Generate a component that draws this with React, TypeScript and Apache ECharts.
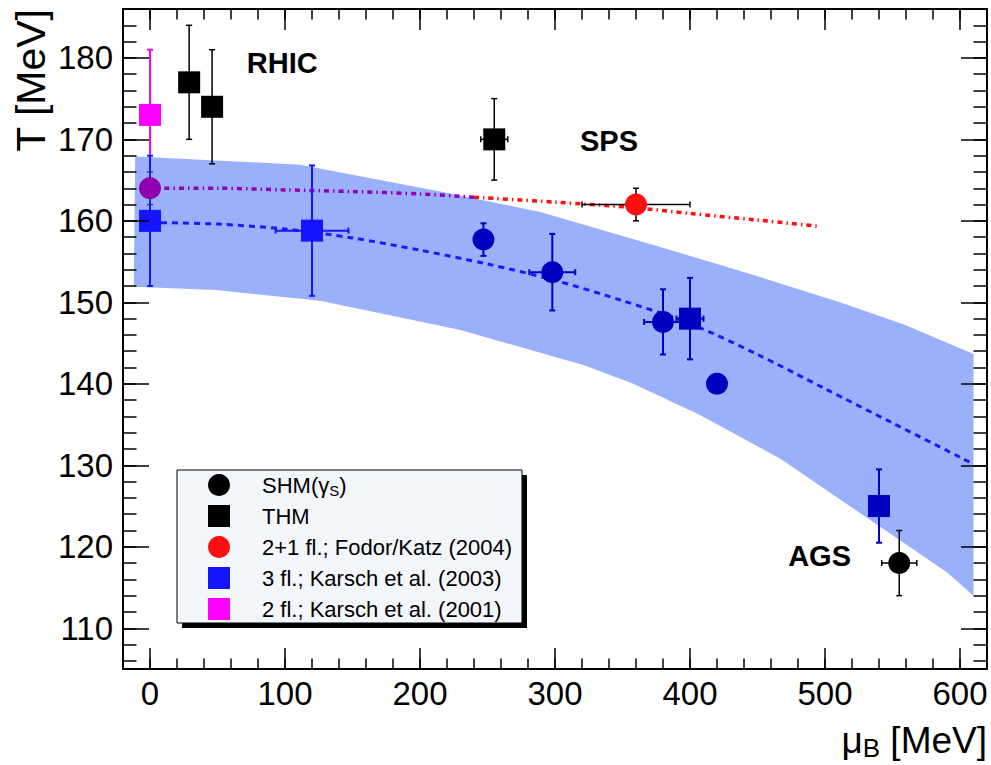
import React, { useEffect, useRef } from "react";
import * as echarts from "echarts";

const FONT = "Liberation Sans";

// ---------- data (μB in MeV, T in MeV) ----------
// SHM(γS) black circle (AGS)
const shmBlackMu = [555];
const shmBlackT = [118];
const shmBlackMuErr = [13];
const shmBlackTErr = [4];

// SHM dark-blue circles
const shmBlueMu = [247, 298, 380, 420];
const shmBlueT = [157.7, 153.7, 147.6, 140.0];
const shmBlueMuErr = [0, 17, 14, 0];
const shmBlueTErr = [2, 4.7, 4, 0];

// THM black squares
const thmMu = [29, 46, 255];
const thmT = [177, 174, 170];
const thmMuErr = [0, 0, 10];
const thmTErr = [7, 7, 5];

// THM dark-blue squares
const thmBlueMu = [400, 540];
const thmBlueT = [148, 125];
const thmBlueMuErr = [10, 0];
const thmBlueTErr = [5, 4.5];

// 2+1 fl.; Fodor/Katz (2004)
const fkMu = [360];
const fkT = [162];
const fkMuErr = [40];
const fkTErr = [2];

// Fodor/Katz at μB = 0 (purple)
const fk0Mu = [0];
const fk0T = [164];
const fk0MuErr = [0];
const fk0TErr = [2];

// 3 fl.; Karsch et al. (2003)
const k3Mu = [0, 120];
const k3T = [160, 158.8];
const k3MuErr = [0, 27];
const k3TErr = [8, 8];

// 2 fl.; Karsch et al. (2001)
const k2Mu = [0];
const k2T = [173];
const k2MuErr = [0];
const k2TErr = [8];

// Fodor/Katz dash-dot curve (purple part, red part)
const fkPurpleMu = [0, 50, 100, 150, 200, 240];
const fkPurpleT = [164.0, 164.0, 163.8, 163.6, 163.3, 162.9];
const fkRedMu = [240, 300, 360, 400, 450, 497];
const fkRedT = [162.9, 162.3, 161.6, 160.9, 160.1, 159.3];

// Karsch dashed curve
const kCurveMu = [0, 50, 100, 150, 200, 250, 300, 350, 400, 450, 500, 550, 607];
const kCurveT = [159.8, 159.6, 159.0, 157.9, 156.4, 154.7, 152.7, 150.2, 147.4, 143.6, 139.4, 135.2, 130.4];

// uncertainty band
const bandUpperMu = [-11, 111, 215, 289, 378, 452, 511, 558, 610];
const bandUpperT = [167.9, 166.9, 163.6, 161.1, 156.8, 153.1, 150.0, 147.3, 143.65];
const bandLowerMu = [-12, 49, 126, 230, 321, 358, 407, 467, 590, 610];
const bandLowerT = [151.9, 151.5, 150.2, 146.6, 142.3, 140.0, 136.2, 130.8, 116.9, 114.0];

// annotations
const annotationText = ["RHIC", "SPS", "AGS"];
const annotationMu = [98, 340, 496];
const annotationT = [179.35, 169.8, 118.85];

// legend
const legendLabels = [
  "{a|SHM(γ}{s|S}{a|)}",
  "{a|THM}",
  "{a|2+1 fl.; Fodor/Katz (2004)}",
  "{a|3 fl.; Karsch et al. (2003)}",
  "{a|2 fl.; Karsch et al. (2001)}",
];
const legendSymbols = ["circle", "rect", "circle", "rect", "rect"];
const legendColors = ["#000000", "#000000", "#ff1010", "#1414ff", "#ff00ff"];

// ---------- colours ----------
const DARK_BLUE = "#0000c0";
const BRIGHT_BLUE = "#1414ff";
const BAND = "#9bb0fb";

function errSeries(
  mu: number[],
  t: number[],
  muErr: number[],
  tErr: number[],
  color: string,
  width: number
) {
  const data = mu.map((m, i) => [m, t[i], muErr[i], tErr[i]]);
  return {
    type: "custom",
    coordinateSystem: "cartesian2d",
    xAxisIndex: 0,
    yAxisIndex: 0,
    silent: true,
    z: 3,
    encode: { x: 0, y: 1 },
    data,
    renderItem: (_params: any, api: any) => {
      const x = api.value(0);
      const y = api.value(1);
      const xe = api.value(2);
      const ye = api.value(3);
      const c = api.coord([x, y]);
      const cap = 3;
      const st = { stroke: color, lineWidth: width };
      const children: any[] = [];
      if (ye > 0) {
        const top = api.coord([x, y + ye]);
        const bot = api.coord([x, y - ye]);
        children.push({ type: "line", shape: { x1: c[0], y1: top[1], x2: c[0], y2: bot[1] }, style: st });
        children.push({ type: "line", shape: { x1: c[0] - cap, y1: top[1], x2: c[0] + cap, y2: top[1] }, style: st });
        children.push({ type: "line", shape: { x1: c[0] - cap, y1: bot[1], x2: c[0] + cap, y2: bot[1] }, style: st });
      }
      if (xe > 0) {
        const l = api.coord([x - xe, y]);
        const r = api.coord([x + xe, y]);
        children.push({ type: "line", shape: { x1: l[0], y1: c[1], x2: r[0], y2: c[1] }, style: st });
        children.push({ type: "line", shape: { x1: l[0], y1: c[1] - cap, x2: l[0], y2: c[1] + cap }, style: st });
        children.push({ type: "line", shape: { x1: r[0], y1: c[1] - cap, x2: r[0], y2: c[1] + cap }, style: st });
      }
      return { type: "group", children };
    },
  };
}

function markerSeries(mu: number[], t: number[], symbol: string, color: string) {
  return {
    type: "scatter",
    xAxisIndex: 0,
    yAxisIndex: 0,
    silent: true,
    z: 4,
    symbol,
    symbolSize: 22,
    itemStyle: { color, opacity: 1 },
    data: mu.map((m, i) => [m, t[i]]),
  };
}

function lineSeries(mu: number[], t: number[], color: string, width: number, dash: number[]) {
  return {
    type: "line",
    xAxisIndex: 0,
    yAxisIndex: 0,
    silent: true,
    z: 2,
    symbol: "none",
    showSymbol: false,
    smooth: 0.3,
    lineStyle: { color, width, type: dash, cap: "butt" },
    data: mu.map((m, i) => [m, t[i]]),
  };
}

const tickStyle = { color: "#000", width: 1.5 };
const frameLine = { show: true, onZero: false, lineStyle: { color: "#000", width: 2 } };

function xAxes() {
  const base = { type: "value", min: -20, max: 620, splitLine: { show: false }, z: 10 };
  return [
    {
      ...base,
      position: "bottom",
      splitNumber: 6,
      axisLine: frameLine,
      axisTick: { inside: true, length: 21, lineStyle: tickStyle },
      axisLabel: {
        fontSize: 33,
        fontFamily: FONT,
        color: "#000",
        margin: 8,
        showMinLabel: false,
        showMaxLabel: false,
      },
    },
    {
      ...base,
      position: "bottom",
      interval: 20,
      axisLine: { show: false, onZero: false },
      axisTick: { inside: true, length: 10.5, lineStyle: tickStyle },
      axisLabel: { show: false },
    },
    {
      ...base,
      position: "top",
      splitNumber: 6,
      axisLine: frameLine,
      axisTick: { inside: true, length: 21, lineStyle: tickStyle },
      axisLabel: { show: false },
    },
    {
      ...base,
      position: "top",
      interval: 20,
      axisLine: { show: false, onZero: false },
      axisTick: { inside: true, length: 10.5, lineStyle: tickStyle },
      axisLabel: { show: false },
    },
  ];
}

function yAxes() {
  const base = { type: "value", min: 105, max: 186, splitLine: { show: false }, z: 10 };
  return [
    {
      ...base,
      position: "left",
      splitNumber: 8,
      axisLine: frameLine,
      axisTick: { inside: true, length: 26, lineStyle: tickStyle },
      axisLabel: {
        fontSize: 33,
        fontFamily: FONT,
        color: "#000",
        margin: 10,
        showMinLabel: false,
        showMaxLabel: false,
      },
    },
    {
      ...base,
      position: "left",
      splitNumber: 40,
      axisLine: { show: false, onZero: false },
      axisTick: { inside: true, length: 13.5, lineStyle: tickStyle },
      axisLabel: { show: false },
    },
    {
      ...base,
      position: "right",
      splitNumber: 8,
      axisLine: frameLine,
      axisTick: { inside: true, length: 26, lineStyle: tickStyle },
      axisLabel: { show: false },
    },
    {
      ...base,
      position: "right",
      splitNumber: 40,
      axisLine: { show: false, onZero: false },
      axisTick: { inside: true, length: 13.5, lineStyle: tickStyle },
      axisLabel: { show: false },
    },
  ];
}

function legendGraphics() {
  const boxX = 177;
  const boxY = 470;
  const boxW = 345;
  const boxH = 153;
  const rowY = [485, 516, 547, 578, 609];
  const items: any[] = [
    { type: "rect", shape: { x: boxX + 5, y: boxY + 5, width: boxW, height: boxH }, style: { fill: "#000" }, z: 100 },
    {
      type: "rect",
      shape: { x: boxX, y: boxY, width: boxW, height: boxH },
      style: { fill: "#f3f6fa", stroke: "#000", lineWidth: 1 },
      z: 101,
    },
  ];
  legendLabels.forEach((lab, i) => {
    const cy = rowY[i];
    if (legendSymbols[i] === "circle") {
      items.push({ type: "circle", shape: { cx: 219, cy, r: 11 }, style: { fill: legendColors[i] }, z: 102 });
    } else {
      items.push({
        type: "rect",
        shape: { x: 208, y: cy - 11, width: 22, height: 22 },
        style: { fill: legendColors[i] },
        z: 102,
      });
    }
    items.push({
      type: "text",
      x: 262,
      y: cy,
      z: 102,
      style: {
        text: lab,
        fill: "#000",
        verticalAlign: "middle",
        align: "left",
        rich: {
          a: { fontSize: 22, fontFamily: FONT, fill: "#000", lineHeight: 26, verticalAlign: "middle" },
          s: { fontSize: 15, fontFamily: FONT, fill: "#000", lineHeight: 15, padding: [13, 0, 0, 0], verticalAlign: "bottom" },
        },
      },
    });
  });
  return items;
}

export default function App() {
  const ref = useRef<HTMLDivElement>(null);

  useEffect(() => {
    if (!ref.current) return;
    const chart = echarts.init(ref.current, undefined, { renderer: "svg" });

    const bandSeries = {
      type: "custom",
      coordinateSystem: "cartesian2d",
      xAxisIndex: 0,
      yAxisIndex: 0,
      silent: true,
      z: 1,
      encode: { x: 0, y: 1 },
      data: [[bandUpperMu[0], bandUpperT[0]]],
      renderItem: (_p: any, api: any) => {
        const pts: number[][] = [];
        for (let i = 0; i < bandUpperMu.length; i++) pts.push(api.coord([bandUpperMu[i], bandUpperT[i]]));
        for (let i = bandLowerMu.length - 1; i >= 0; i--) pts.push(api.coord([bandLowerMu[i], bandLowerT[i]]));
        return { type: "polygon", shape: { points: pts }, style: { fill: BAND } };
      },
    };

    const annotationSeries = {
      type: "scatter",
      xAxisIndex: 0,
      yAxisIndex: 0,
      silent: true,
      z: 5,
      symbolSize: 1,
      itemStyle: { color: "rgba(0,0,0,0)", opacity: 1 },
      label: {
        show: true,
        position: "inside",
        formatter: "{b}",
        fontSize: 29,
        fontWeight: "bold",
        fontFamily: FONT,
        color: "#000",
        opacity: 1,
        textBorderWidth: 0,
        textBorderColor: "transparent",
      },
      data: annotationText.map((s, i) => ({ name: s, value: [annotationMu[i], annotationT[i]] })),
    };

    const option: any = {
      animation: false,
      backgroundColor: "#ffffff",
      grid: { left: 123, right: 4, top: 9, bottom: 96, containLabel: false },
      xAxis: xAxes(),
      yAxis: yAxes(),
      series: [
        bandSeries,
        lineSeries(kCurveMu, kCurveT, "#1a1aff", 3, [6, 5]),
        lineSeries(fkPurpleMu, fkPurpleT, "#9000b4", 3.5, [5, 4, 1.5, 4]),
        lineSeries(fkRedMu, fkRedT, "#ff1010", 3.5, [5, 4, 1.5, 4]),
        errSeries(k2Mu, k2T, k2MuErr, k2TErr, "#ff00ff", 2),
        errSeries(k3Mu, k3T, k3MuErr, k3TErr, BRIGHT_BLUE, 2),
        errSeries(fk0Mu, fk0T, fk0MuErr, fk0TErr, "#2a2ab0", 1.5),
        errSeries(shmBlueMu, shmBlueT, shmBlueMuErr, shmBlueTErr, DARK_BLUE, 2),
        errSeries(thmBlueMu, thmBlueT, thmBlueMuErr, thmBlueTErr, DARK_BLUE, 2),
        errSeries(thmMu, thmT, thmMuErr, thmTErr, "#000", 1.5),
        errSeries(shmBlackMu, shmBlackT, shmBlackMuErr, shmBlackTErr, "#000", 1.5),
        errSeries(fkMu, fkT, fkMuErr, fkTErr, "#000", 1.5),
        markerSeries(k2Mu, k2T, "rect", "#ff00ff"),
        markerSeries(k3Mu, k3T, "rect", BRIGHT_BLUE),
        markerSeries(fk0Mu, fk0T, "circle", "#9000b0"),
        markerSeries(shmBlueMu, shmBlueT, "circle", DARK_BLUE),
        markerSeries(thmBlueMu, thmBlueT, "rect", DARK_BLUE),
        markerSeries(thmMu, thmT, "rect", "#000"),
        markerSeries(shmBlackMu, shmBlackT, "circle", "#000"),
        markerSeries(fkMu, fkT, "circle", "#ff1010"),
        annotationSeries,
      ],
      graphic: [
        {
          type: "text",
          x: 31,
          y: 9,
          rotation: Math.PI / 2,
          style: {
            text: "T [MeV]",
            fontSize: 41,
            fontFamily: FONT,
            fill: "#000",
            align: "right",
            verticalAlign: "middle",
          },
        },
        {
          type: "text",
          x: 987,
          y: 740,
          style: {
            text: "{m|μ}{b|B}{m| [MeV]}",
            fill: "#000",
            align: "right",
            verticalAlign: "middle",
            rich: {
              m: { fontSize: 37, fontFamily: FONT, fill: "#000", lineHeight: 42, verticalAlign: "middle" },
              b: { fontSize: 26, fontFamily: FONT, fill: "#000", lineHeight: 26, padding: [22, 0, 0, 0], verticalAlign: "bottom" },
            },
          },
        },
        ...legendGraphics(),
      ],
    };

    chart.setOption(option);
    return () => {
      chart.dispose();
    };
  }, []);

  return (
    <div
      ref={ref}
      style={{ position: "fixed", left: 0, top: 0, width: 991, height: 765, background: "#fff" }}
    />
  );
}
